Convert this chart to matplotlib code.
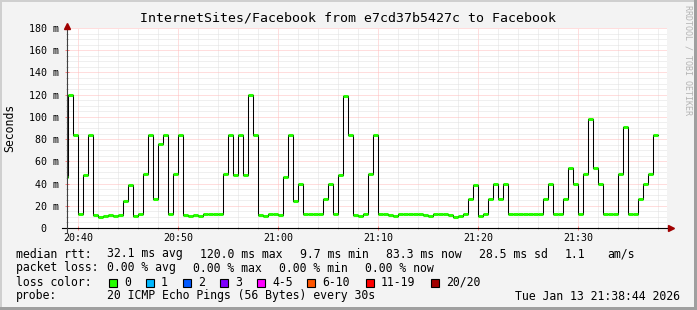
import numpy as np
import matplotlib
matplotlib.use("Agg")
from matplotlib import pyplot as plt
from matplotlib.patches import Rectangle

LARGURA, ALTURA = 697, 310

titulo = "InternetSites/Facebook from e7cd37b5427c to Facebook"

# eixo x em minutos a partir de 20:40
rotulos_x = ["20:40", "20:50", "21:00", "21:10", "21:20", "21:30"]
minutos_x = [0, 10, 20, 30, 40, 50]

valores_y = [0, 20, 40, 60, 80, 100, 120, 140, 160, 180]
rotulos_y = ["0  ", "20 m", "40 m", "60 m", "80 m", "100 m", "120 m", "140 m", "160 m", "180 m"]

# mediana do rtt (ms), um valor a cada 30 s, o primeiro comeca em 20:38:30
inicio = -1.5
passo = 0.5
mediana_ms = [
    46, 120, 84, 12.3, 47.7, 84, 11.7, 9.7, 10.8, 11.7,
    10.5, 11.7, 24.3, 39, 10.5, 12.5, 48.3, 84, 26, 75.9,
    84, 12.3, 48.3, 84, 11.7, 10.5, 11.7, 10.5, 12.3, 12.3,
    12.3, 12.3, 48.3, 84, 47.7, 83.4, 47.7, 119.7, 84, 11.7,
    10.5, 12.5, 12.5, 11.7, 46.2, 83.4, 24.3, 39.9, 12.5, 12.5,
    12.5, 12.5, 26, 40, 12.3, 47.7, 119, 84, 11.7, 10.5,
    12.3, 48.3, 84, 12.3, 12.3, 11.7, 10.5, 12.5, 12.5, 12.5,
    12.5, 12.5, 11.7, 10.5, 12.5, 12.5, 12.5, 11.7, 9.7, 10.5,
    12.3, 26, 39, 10.5, 12.3, 26, 40, 26, 40, 12.5,
    12.5, 12.5, 12.5, 12.5, 12.5, 12.5, 26, 40, 12.5, 12.5,
    26, 53.7, 40, 12.5, 48.3, 98.1, 53.7, 40, 12.5, 12.5,
    12.5, 48.3, 90.9, 12.5, 12.5, 26, 40, 48.3, 83.4,
]

linha_rtt = ["median rtt:", "32.1 ms avg", "120.0 ms max", "9.7 ms min", "83.3 ms now", "28.5 ms sd", "1.1", "am/s"]
linha_perda = ["packet loss:", "0.00 % avg", "0.00 % max", "0.00 % min", "0.00 % now"]
rotulos_perda = ["0", "1", "2", "3", "4-5", "6-10", "11-19", "20/20"]
cores_perda = ["#26ff00", "#00b8ff", "#0059ff", "#7e00ff", "#ff00ff", "#ff5500", "#ff0000", "#a10000"]
linha_sonda = ["probe:", "20 ICMP Echo Pings (56 Bytes) every 30s"]
data_hora = "Tue Jan 13 21:38:44 2026"

plt.rcParams["font.family"] = ["DejaVu Sans Mono"]

fig = plt.figure(figsize=(LARGURA / 100, ALTURA / 100), dpi=100, facecolor="#f3f3f3")


def px(x, y):
    return x / LARGURA, 1 - y / ALTURA


ax = fig.add_axes([67 / LARGURA, 1 - 228 / ALTURA, 600 / LARGURA, 200 / ALTURA])
ax.set_facecolor("white")
ax.set_xlim(-1.13, 58.87)
ax.set_ylim(0, 180)

ax.set_xticks(minutos_x)
ax.set_xticklabels(rotulos_x)
ax.set_xticks(np.arange(0, 60, 2), minor=True)
ax.set_yticks(valores_y)
ax.set_yticklabels(rotulos_y)
ax.set_yticks(np.arange(0, 181, 5), minor=True)

ax.grid(which="major", color="#ffbcbc", linestyle=(0, (1, 1)), linewidth=0.72)
ax.grid(which="minor", color="#e0e0e0", linestyle=(0, (1, 1)), linewidth=0.72)
ax.set_axisbelow(True)
for lado in ax.spines.values():
    lado.set_visible(False)

ax.tick_params(which="major", direction="inout", length=3, width=0.72, colors="#ff8080",
               labelcolor="black", labelsize=7.2)
ax.tick_params(which="minor", direction="inout", length=2, width=0.72, colors="#bbbbbb")
ax.tick_params(axis="x", which="major", pad=2.2)
ax.tick_params(axis="y", which="major", pad=4.2)

# serie em degraus: contorno preto e mediana verde por cima
t = inicio + passo * np.arange(len(mediana_ms))
bordas = np.append(t, t[-1] + passo)
ax.step(bordas, mediana_ms + [mediana_ms[-1]], where="post", color="black", linewidth=0.75, zorder=3)
ax.hlines(mediana_ms, t, t + passo, colors="#26ff00", linewidth=2.2, capstyle="butt", zorder=4)

# eixos com setas
ax.plot([-0.008, 1.003], [0, 0], color="black", linewidth=0.8, transform=ax.transAxes, clip_on=False, zorder=5)
ax.plot([0, 0], [-0.025, 1.0], color="#404040", linewidth=0.8, transform=ax.transAxes, clip_on=False, zorder=5)
ax.plot([1.006], [0], marker=">", markersize=4, color="#a00000", transform=ax.transAxes, clip_on=False, zorder=6)
ax.plot([0], [1.012], marker="^", markersize=4, color="#a00000", transform=ax.transAxes, clip_on=False, zorder=6)

fig.text(*px(348, 18), titulo, ha="center", va="center", fontsize=9.5)
fig.text(*px(10, 128), "Seconds", ha="center", va="center", rotation=90, fontsize=8.3)
fig.text(*px(688, 5), "RRDTOOL / TOBI OETIKER", ha="center", va="top", rotation=270,
         fontsize=6, color="#b4b4b4")

# legenda
tam = 8.3
x_rtt = [16, 107, 200, 300, 386, 479, 565, 607]
for s, x in zip(linha_rtt, x_rtt):
    fig.text(*px(x, 254), s, ha="left", va="center", fontsize=tam)

x_perda = [16, 107, 193, 279, 365]
for s, x in zip(linha_perda, x_perda):
    fig.text(*px(x, 268), s, ha="left", va="center", fontsize=tam)

fig.text(*px(16, 282), "loss color:", ha="left", va="center", fontsize=tam)
x_caixa = [109, 146, 183, 220, 257, 307, 366, 431]
for s, cor, x in zip(rotulos_perda, cores_perda, x_caixa):
    fig.add_artist(Rectangle(px(x, 286.5), 8 / LARGURA, 8 / ALTURA, transform=fig.transFigure,
                             facecolor=cor, edgecolor="black", linewidth=0.8))
    fig.text(*px(x + 15, 282), s, ha="left", va="center", fontsize=tam)

fig.text(*px(16, 296), linha_sonda[0], ha="left", va="center", fontsize=tam)
fig.text(*px(107, 296), linha_sonda[1], ha="left", va="center", fontsize=tam)
fig.text(*px(680, 296), data_hora, ha="right", va="center", fontsize=tam)

# moldura
fig.add_artist(Rectangle((0, 1 - 2 / ALTURA), 1, 2 / ALTURA, transform=fig.transFigure, color="#cfcfcf", lw=0))
fig.add_artist(Rectangle((0, 0), 2 / LARGURA, 1, transform=fig.transFigure, color="#cfcfcf", lw=0))
fig.add_artist(Rectangle((0, 0), 1, 3 / ALTURA, transform=fig.transFigure, color="#9f9f9f", lw=0))
fig.add_artist(Rectangle((1 - 3 / LARGURA, 0), 3 / LARGURA, 1, transform=fig.transFigure, color="#9f9f9f", lw=0))

fig.savefig("out.png", dpi=100, facecolor=fig.get_facecolor())
